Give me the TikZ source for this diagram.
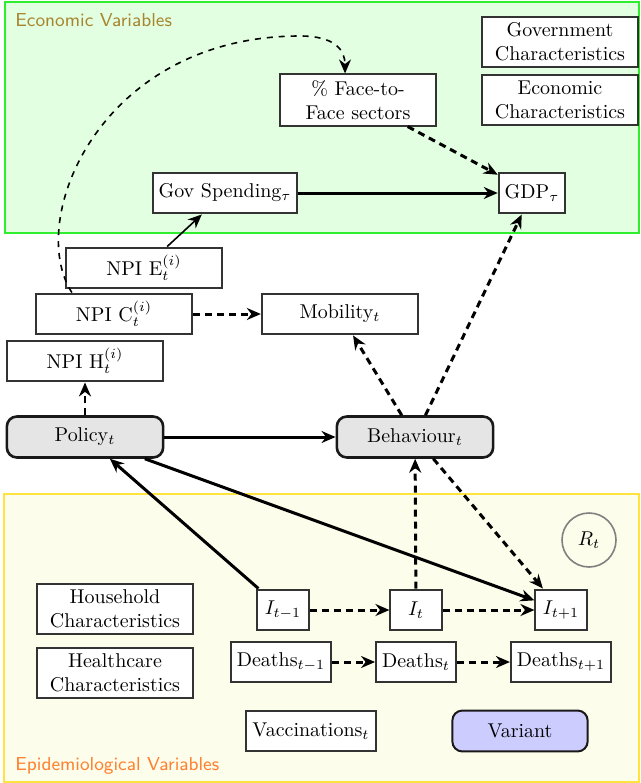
\documentclass[tikz,border=0pt]{standalone}
\usetikzlibrary{arrows.meta}

\definecolor{econfill}{HTML}{E2FFE2}
\definecolor{econline}{HTML}{2EEE2E}
\definecolor{econtext}{HTML}{A8862F}
\definecolor{epifill}{HTML}{FDFDEB}
\definecolor{epiline}{HTML}{FFE33F}
\definecolor{epitext}{HTML}{FF8030}
\definecolor{keyfill}{HTML}{E5E5E5}
\definecolor{variantfill}{HTML}{CCCCFF}

\tikzset{
  varbox/.style={draw=black!80,line width=1pt,fill=white,minimum height=0.72cm,inner sep=3pt,align=center},
  widebox/.style={varbox,minimum width=2.75cm},
  keybox/.style={draw=black!90,line width=1.3pt,rounded corners=5pt,fill=keyfill,minimum width=2.75cm,minimum height=0.72cm},
  grouplabel/.style={font=\sffamily\fontsize{9.4}{11}\selectfont,anchor=west,inner sep=0pt},
  causes/.style={-{Stealth[length=7pt,width=6pt]},line width=1.5pt},
  maycause/.style={causes,dash pattern=on 3.5pt off 2.5pt},
}

\begin{document}
\begin{tikzpicture}[x=0.0176cm,y=-0.0176cm]
\useasboundingbox (0,0) rectangle (641,783);

% groups
\fill[econfill] (5,2) rectangle (639,233);
\draw[econline,thick] (5,2) rectangle (639,233);
\fill[epifill] (4,494) rectangle (639,782);
\draw[epiline,thick] (4,494) rectangle (639,782);
\node(econ)[grouplabel,text=econtext] at (15,20) {Economic Variables};
\node(epi)[grouplabel,text=epitext] at (15,766) {Epidemiological Variables};

% economic variables
\node(govc)[widebox] at (560,42) {Government\\Characteristics};
\node(ecoc)[widebox] at (560,100) {Economic\\Characteristics};
\node(face)[widebox] at (358,100) {\% Face-to-\\Face sectors};
\node(gov)[varbox] at (225,193) {Gov Spending$_\tau$};
\node(gdp)[varbox] at (532,193) {GDP$_\tau$};

% policy and behaviour
\node(npie)[widebox] at (144,268) {NPI E$_t^{(i)}$};
\node(npic)[widebox] at (114,314) {NPI C$_t^{(i)}$};
\node(npih)[widebox] at (85,361) {NPI H$_t^{(i)}$};
\node(mob)[widebox] at (340,314) {Mobility$_t$};
\node(pol)[keybox] at (85,437) {Policy$_t$};
\node(beh)[keybox] at (415,437) {Behaviour$_t$};

% epidemiological variables
\node(rt)[draw=gray,thick,circle,minimum size=0.95cm] at (589,540) {$R_t$};
\node(hh)[widebox] at (115,609) {Household\\Characteristics};
\node(hc)[widebox] at (115,673) {Healthcare\\Characteristics};
\node(i0)[varbox,minimum width=0.9cm] at (283,610) {$I_{t-1}$};
\node(i1)[varbox,minimum width=0.9cm] at (416,610) {$I_t$};
\node(i2)[varbox,minimum width=0.9cm] at (561,610) {$I_{t+1}$};
\node(d0)[varbox] at (281,662) {Deaths$_{t-1}$};
\node(d1)[varbox] at (416,662) {Deaths$_t$};
\node(d2)[varbox] at (561,662) {Deaths$_{t+1}$};
\node(vac)[varbox] at (311,731) {Vaccinations$_t$};
\node(var)[keybox,line width=1pt,fill=variantfill,minimum width=2.38cm] at (520,731) {Variant};

\draw[causes] (gov) -- (gdp);
\draw[maycause] (face) -- (gdp);
\draw[-{Stealth[length=7pt,width=6pt]},thick] (npie) -- (gov);
\draw[-{Stealth[length=7pt,width=6pt]},thick,dashed] (npic.153) .. controls (25,220) and (100,36) .. (300,36) .. controls (335,36) and (345,50) .. (face.116);
\draw[maycause] (npic) -- (mob);
\draw[maycause] (pol) -- (npih);
\draw[causes] (pol) -- (beh);
\draw[maycause] (beh) -- (mob);
\draw[maycause] (beh) -- (gdp);
\draw[causes] (i0) -- (pol);
\draw[causes] (pol) -- (i2);
\draw[maycause] (i1) -- (beh);
\draw[maycause] (beh) -- (i2);
\draw[maycause] (i0) -- (i1);
\draw[maycause] (i1) -- (i2);
\draw[maycause] (d0) -- (d1);
\draw[maycause] (d1) -- (d2);

\end{tikzpicture}
\end{document}
